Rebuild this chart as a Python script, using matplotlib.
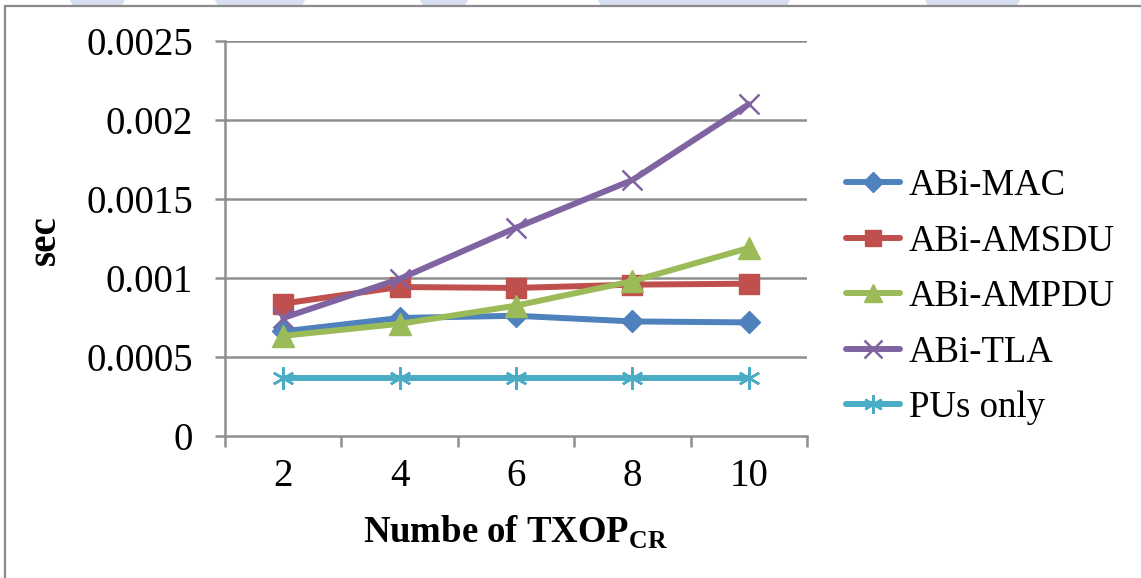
import matplotlib
matplotlib.use("Agg")
import matplotlib.pyplot as plt
from matplotlib.patches import Rectangle, Polygon
from matplotlib.lines import Line2D

plt.rcParams['font.family'] = ['Liberation Serif', 'DejaVu Serif']
plt.rcParams['mathtext.fontset'] = 'custom'
plt.rcParams['mathtext.rm'] = 'Liberation Serif'
plt.rcParams['mathtext.bf'] = 'Liberation Serif:bold'

# Data
txop = [2, 4, 6, 8, 10]
abi_mac = [0.000662, 0.000747, 0.000761, 0.000725, 0.000719]
abi_amsdu = [0.000838, 0.000943, 0.000937, 0.000958, 0.000964]
abi_ampdu = [0.000634, 0.000710, 0.000825, 0.000980, 0.001190]
abi_tla = [0.000747, 0.000994, 0.001318, 0.001620, 0.002100]
pus_only = [0.000366, 0.000366, 0.000366, 0.000366, 0.000366]
y_ticks = [0, 0.0005, 0.001, 0.0015, 0.002, 0.0025]
y_tick_labels = ['0', '0.0005', '0.001', '0.0015', '0.002', '0.0025']

W, H = 1141, 578
fig = plt.figure(figsize=(W / 100, H / 100), dpi=100)
fig.patch.set_facecolor('white')

# faint page watermark above the chart frame
wm_color = '#d6def0'
for x0, x1 in [(70, 125), (215, 305), (420, 468), (598, 790), (925, 1020)]:
    fig.patches.append(Polygon([(x0 / W, 1.0), (x1 / W, 1.0), ((x1 - 3) / W, 1 - 6 / H), ((x0 + 3) / W, 1 - 6 / H)],
                               closed=True, transform=fig.transFigure, facecolor=wm_color,
                               edgecolor='none', zorder=0))

# chart frame
fig.patches.append(Rectangle((5 / W, -0.1), 1.2, 1 - 6 / H + 0.1, transform=fig.transFigure,
                             fill=False, edgecolor='#8a8a8a', linewidth=1.6, zorder=1))

left, right, bottom, top = 225 / W, 807 / W, 1 - 436 / H, 1 - 41 / H
ax = fig.add_axes([left, bottom, right - left, top - bottom])
ax.set_facecolor('none')

series = [
    ('ABi-MAC', abi_mac, '#4f81bd', 'D', 11.5),
    ('ABi-AMSDU', abi_amsdu, '#c0504d', 's', 14),
    ('ABi-AMPDU', abi_ampdu, '#9bbb59', '^', 16),
    ('ABi-TLA', abi_tla, '#8064a2', 'x', 15),
    ('PUs only', pus_only, '#4bacc6', (6, 2, 0), 16),
]

handles = []
for name, vals, col, mk, ms in series:
    mew = 1.8 if mk in ('x',) or isinstance(mk, tuple) else 1.0
    ax.plot(txop, vals, color=col, linewidth=4.3, marker=mk, markersize=ms,
            markerfacecolor=col, markeredgecolor=col, markeredgewidth=mew,
            solid_capstyle='round', zorder=3)
    handles.append(Line2D([0], [0], color=col, linewidth=4.3, marker=mk,
                          markersize=ms * 0.85, markerfacecolor=col, markeredgecolor=col,
                          markeredgewidth=mew, solid_capstyle='round', label=name))

ax.set_xlim(1, 11)
ax.set_ylim(0, 0.0025)
ax.set_yticks(y_ticks)
ax.set_yticklabels(y_tick_labels)
ax.set_xticks(txop)
ax.set_xticklabels([str(v) for v in txop])
ax.set_xticks([1, 3, 5, 7, 9, 11], minor=True)

for y in y_ticks[1:]:
    ax.axhline(y, color='#8e8e8e', linewidth=1.8, zorder=1)

for s in ['top', 'right']:
    ax.spines[s].set_visible(False)
for s in ['left', 'bottom']:
    ax.spines[s].set_color('#8e8e8e')
    ax.spines[s].set_linewidth(1.8)

ax.tick_params(axis='y', length=7.2, width=1.8, color='#8e8e8e', pad=16, labelsize=28)
ax.tick_params(axis='x', which='major', length=0, pad=16, labelsize=28)
ax.tick_params(axis='x', which='minor', length=8, width=1.8, color='#8e8e8e')

fig.text(45 / W, 1 - 240 / H, 'sec', rotation=90, fontsize=28, fontweight='bold',
         ha='center', va='center')
fig.text(516 / W, 1 - 543 / H, r'Numbe of TXOP$_{\mathbf{CR}}$', fontsize=26.5,
         fontweight='bold', ha='center', va='baseline')

fig.legend(handles=handles, loc='center left', bbox_to_anchor=(828 / W, 1 - 297 / H),
           frameon=False, fontsize=26.5, handlelength=1.45, handletextpad=0.25,
           labelspacing=0.57, borderpad=0)

fig.savefig('out.png', dpi=100)
